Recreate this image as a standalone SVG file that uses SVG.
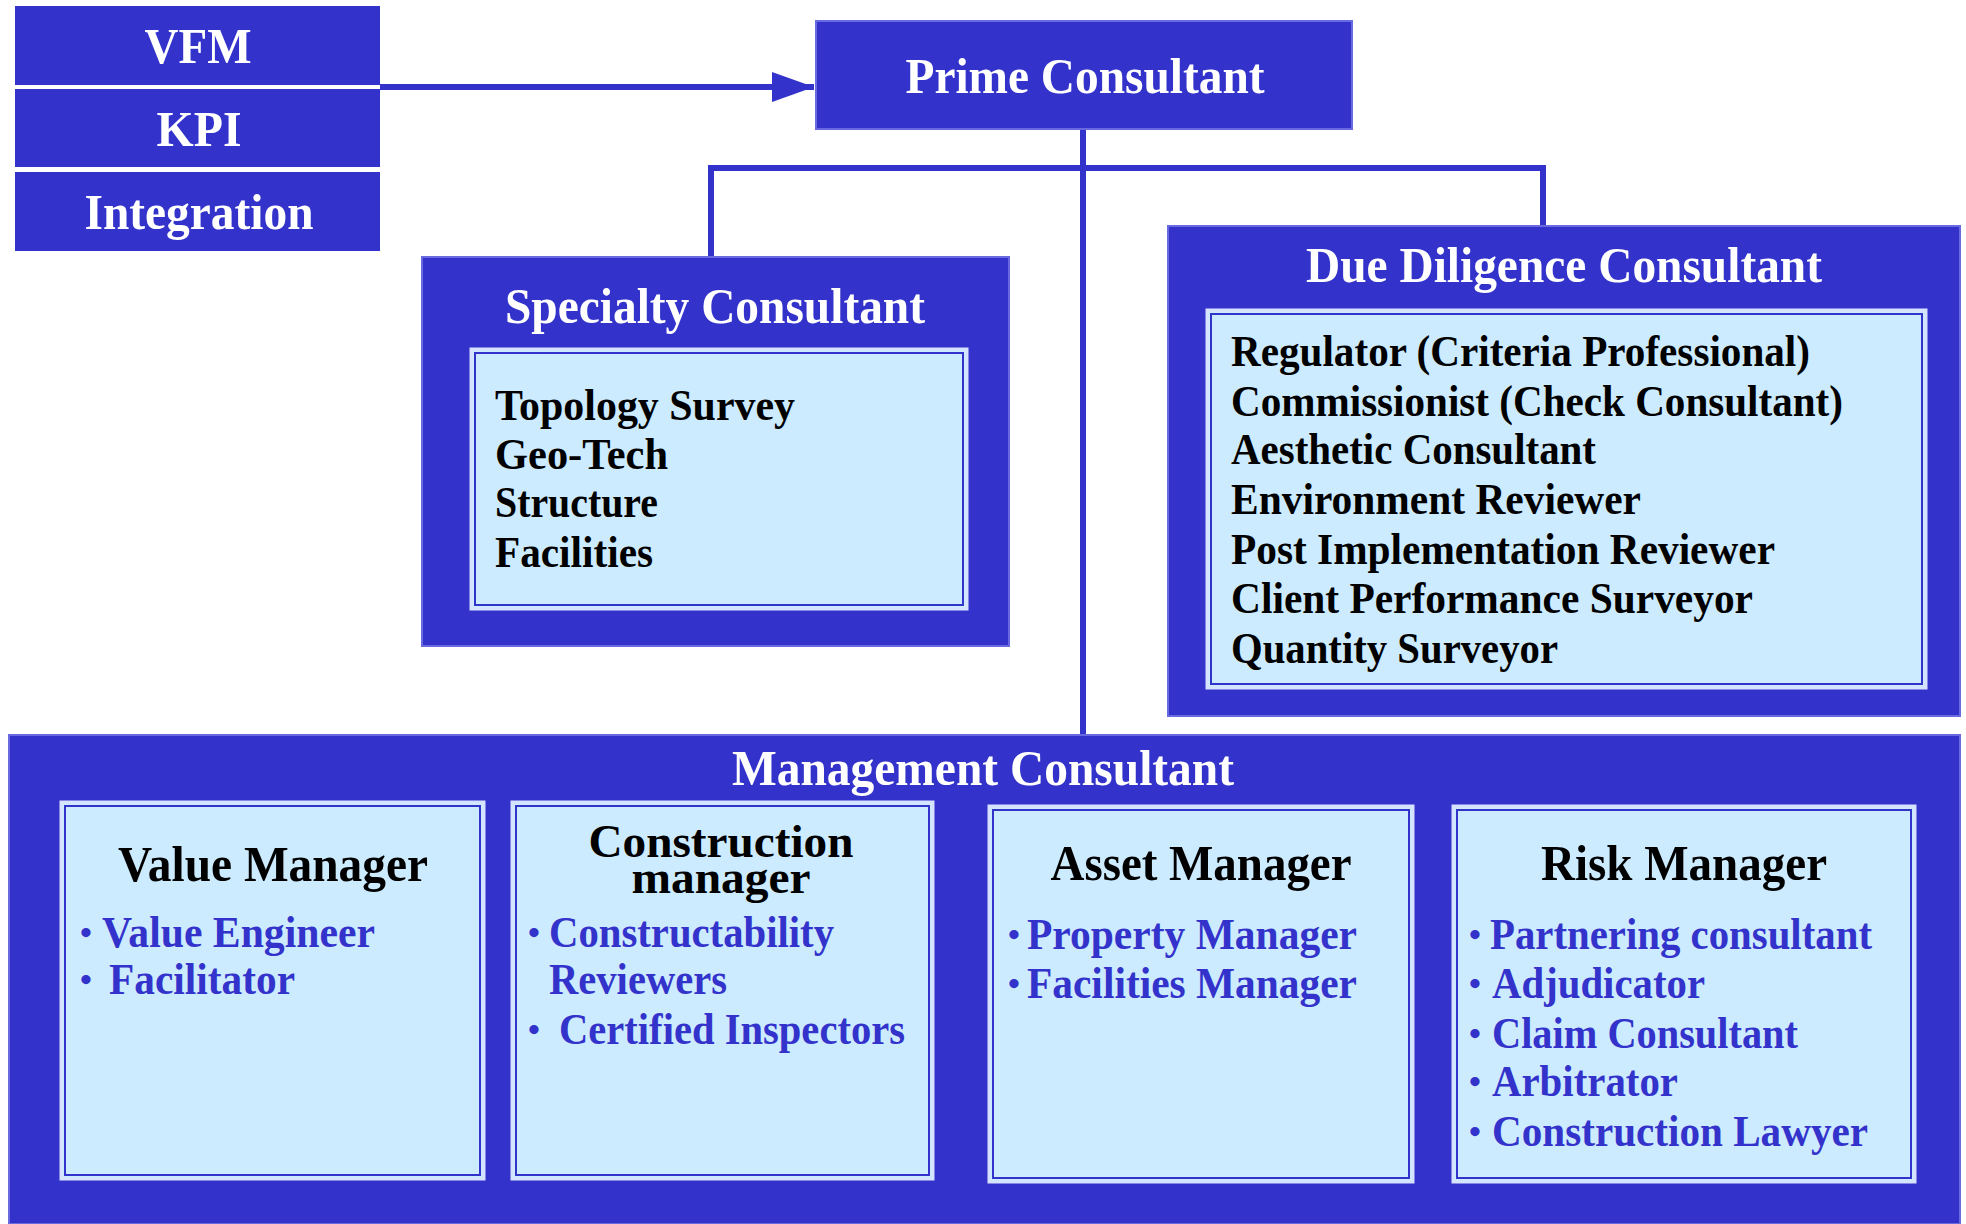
<svg xmlns="http://www.w3.org/2000/svg" width="1966" height="1224" viewBox="0 0 1966 1224">
<style>
text{font-family:"Liberation Serif","Times New Roman",serif;font-weight:bold}
.blk{fill:#3333CC}
.outer{fill:#3333CC;stroke:#6a6ae0;stroke-width:2}
.inner{fill:#CCEBFF;stroke:#d6e2ff;stroke-width:3}
.inline{fill:none;stroke:#3333CC;stroke-width:2}
.wt{fill:#ffffff;font-size:50px;text-anchor:middle}
.it{fill:#000000;font-size:44px}
.mt{fill:#000000;font-size:50px;text-anchor:middle}
.ct{fill:#000000;font-size:46px;text-anchor:middle}
.bl{fill:#3333CC;font-size:44px}
.bu{fill:#3333CC;font-size:34px}
.conn{stroke:#3333CC;stroke-width:6;fill:none}
</style>
<defs>
<marker id="ah" markerWidth="7" markerHeight="5" refX="7" refY="2.5" orient="auto" markerUnits="strokeWidth">
<path d="M0,0 L7,2.5 L0,5 Z" fill="#3333CC"/>
</marker>
</defs>

<g id="connectors">
<line class="conn" x1="380" y1="87" x2="814" y2="87" marker-end="url(#ah)"/>
<line class="conn" x1="1083" y1="129" x2="1083" y2="736"/>
<polyline class="conn" points="711,258 711,168 1543,168 1543,227"/>
</g>

<g id="vfm">
<rect class="blk" x="15" y="6" width="365" height="79"/>
<text class="wt" x="198" y="63" textLength="107" lengthAdjust="spacingAndGlyphs">VFM</text>
</g>
<g id="kpi">
<rect class="blk" x="15" y="89" width="365" height="78"/>
<text class="wt" x="199" y="146" textLength="85" lengthAdjust="spacingAndGlyphs">KPI</text>
</g>
<g id="integration">
<rect class="blk" x="15" y="172" width="365" height="79"/>
<text class="wt" x="199" y="229" textLength="229" lengthAdjust="spacingAndGlyphs">Integration</text>
</g>

<g id="prime">
<rect class="outer" x="816" y="21" width="536" height="108"/>
<text class="wt" x="1085" y="93" textLength="359" lengthAdjust="spacingAndGlyphs">Prime Consultant</text>
</g>

<g id="specialty">
<rect class="outer" x="422" y="257" width="587" height="389"/>
<text class="wt" x="715" y="323" textLength="420" lengthAdjust="spacingAndGlyphs">Specialty Consultant</text>
<rect class="inner" x="471" y="349" width="496" height="260"/>
<rect class="inline" x="475" y="353" width="488" height="252"/>
<text class="it" x="495" y="420" textLength="300" lengthAdjust="spacingAndGlyphs">Topology Survey</text>
<text class="it" x="495" y="469" textLength="173" lengthAdjust="spacingAndGlyphs">Geo-Tech</text>
<text class="it" x="495" y="517" textLength="163" lengthAdjust="spacingAndGlyphs">Structure</text>
<text class="it" x="495" y="567" textLength="158" lengthAdjust="spacingAndGlyphs">Facilities</text>
</g>

<g id="duediligence">
<rect class="outer" x="1168" y="226" width="792" height="490"/>
<text class="wt" x="1564" y="282" textLength="516" lengthAdjust="spacingAndGlyphs">Due Diligence Consultant</text>
<rect class="inner" x="1207" y="310" width="719" height="378"/>
<rect class="inline" x="1211" y="314" width="711" height="370"/>
<text class="it" x="1231" y="366" textLength="579" lengthAdjust="spacingAndGlyphs">Regulator (Criteria Professional)</text>
<text class="it" x="1231" y="416" textLength="612" lengthAdjust="spacingAndGlyphs">Commissionist (Check Consultant)</text>
<text class="it" x="1231" y="464" textLength="365" lengthAdjust="spacingAndGlyphs">Aesthetic Consultant</text>
<text class="it" x="1231" y="514" textLength="410" lengthAdjust="spacingAndGlyphs">Environment Reviewer</text>
<text class="it" x="1231" y="564" textLength="544" lengthAdjust="spacingAndGlyphs">Post Implementation Reviewer</text>
<text class="it" x="1231" y="613" textLength="522" lengthAdjust="spacingAndGlyphs">Client Performance Surveyor</text>
<text class="it" x="1231" y="663" textLength="327" lengthAdjust="spacingAndGlyphs">Quantity Surveyor</text>
</g>

<g id="management">
<rect class="outer" x="9" y="735" width="1951" height="489"/>
<text class="wt" x="983" y="785" textLength="502" lengthAdjust="spacingAndGlyphs">Management Consultant</text>
</g>

<g id="valuemanager">
<rect class="inner" x="61" y="802" width="423" height="377"/>
<rect class="inline" x="65" y="806" width="415" height="369"/>
<text class="mt" x="273" y="881" textLength="310" lengthAdjust="spacingAndGlyphs">Value Manager</text>
<text class="bu" x="80" y="944">•</text>
<text class="bl" x="102" y="947" textLength="273" lengthAdjust="spacingAndGlyphs">Value Engineer</text>
<text class="bu" x="80" y="991">•</text>
<text class="bl" x="109" y="994" textLength="186" lengthAdjust="spacingAndGlyphs">Facilitator</text>
</g>

<g id="constructionmanager">
<rect class="inner" x="512" y="802" width="421" height="377"/>
<rect class="inline" x="516" y="806" width="413" height="369"/>
<text class="ct" x="721" y="857" textLength="265" lengthAdjust="spacingAndGlyphs">Construction</text>
<text class="ct" x="721" y="893" textLength="179" lengthAdjust="spacingAndGlyphs">manager</text>
<text class="bu" x="528" y="944">•</text>
<text class="bl" x="549" y="947" textLength="285" lengthAdjust="spacingAndGlyphs">Constructability</text>
<text class="bl" x="549" y="994" textLength="178" lengthAdjust="spacingAndGlyphs">Reviewers</text>
<text class="bu" x="528" y="1041">•</text>
<text class="bl" x="559" y="1044" textLength="346" lengthAdjust="spacingAndGlyphs">Certified Inspectors</text>
</g>

<g id="assetmanager">
<rect class="inner" x="989" y="806" width="424" height="376"/>
<rect class="inline" x="993" y="810" width="416" height="368"/>
<text class="mt" x="1201" y="880" textLength="301" lengthAdjust="spacingAndGlyphs">Asset Manager</text>
<text class="bu" x="1008" y="946">•</text>
<text class="bl" x="1027" y="949" textLength="330" lengthAdjust="spacingAndGlyphs">Property Manager</text>
<text class="bu" x="1008" y="995">•</text>
<text class="bl" x="1027" y="998" textLength="330" lengthAdjust="spacingAndGlyphs">Facilities Manager</text>
</g>

<g id="riskmanager">
<rect class="inner" x="1453" y="806" width="462" height="376"/>
<rect class="inline" x="1457" y="810" width="454" height="368"/>
<text class="mt" x="1684" y="880" textLength="286" lengthAdjust="spacingAndGlyphs">Risk Manager</text>
<text class="bu" x="1469" y="946">•</text>
<text class="bl" x="1490" y="949" textLength="382" lengthAdjust="spacingAndGlyphs">Partnering consultant</text>
<text class="bu" x="1469" y="995">•</text>
<text class="bl" x="1492" y="998" textLength="213" lengthAdjust="spacingAndGlyphs">Adjudicator</text>
<text class="bu" x="1469" y="1045">•</text>
<text class="bl" x="1492" y="1048" textLength="306" lengthAdjust="spacingAndGlyphs">Claim Consultant</text>
<text class="bu" x="1469" y="1093">•</text>
<text class="bl" x="1492" y="1096" textLength="186" lengthAdjust="spacingAndGlyphs">Arbitrator</text>
<text class="bu" x="1469" y="1143">•</text>
<text class="bl" x="1492" y="1146" textLength="376" lengthAdjust="spacingAndGlyphs">Construction Lawyer</text>
</g>
</svg>
